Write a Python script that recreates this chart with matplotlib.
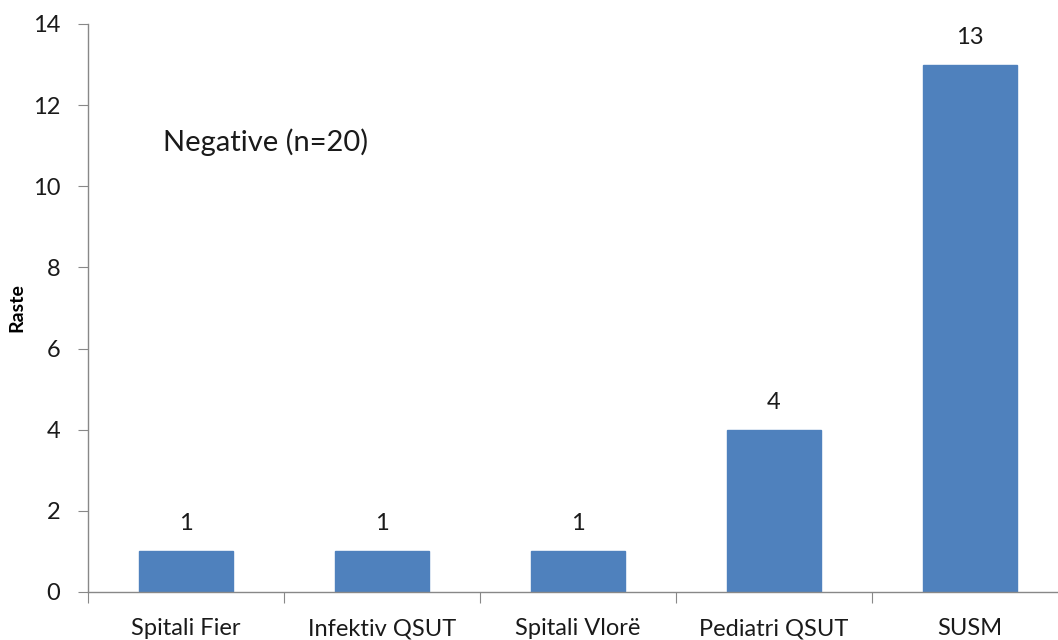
import matplotlib
matplotlib.use("Agg")
import matplotlib.pyplot as plt
import numpy as np

categories = ["Spitali Fier", "Infektiv QSUT", "Spitali Vlorë", "Pediatri QSUT", "SUSM"]
values = [1, 1, 1, 4, 13]
yticks = [0, 2, 4, 6, 8, 10, 12, 14]

plt.rcParams['font.family'] = ['Lato', 'DejaVu Sans']

fig = plt.figure(figsize=(10.58, 6.4), dpi=100)
ax = fig.add_axes([88/1058, 48/640, 980/1058, 568/640])

x = np.arange(len(categories))
bars = ax.bar(x, values, width=0.475, color='#4F81BD', edgecolor='#4F81BD', zorder=2)
for xi, v in zip(x, values):
    ax.text(xi, v + 0.42, str(v), ha='center', va='bottom', fontsize=17, color='#1a1a1a')

ax.set_xlim(-0.5, len(categories) - 0.5)
ax.set_ylim(0, 14)
ax.set_yticks(yticks)
ax.set_yticklabels([str(t) for t in yticks], fontsize=17, color='#1a1a1a')

ax.set_xticks(np.arange(-0.5, len(categories), 1.0))
ax.set_xticklabels([])
ax.set_xticks(x, minor=True)
ax.set_xticklabels(categories, minor=True, fontsize=17, color='#1a1a1a')
ax.tick_params(axis='x', which='minor', length=0, pad=19)
ax.tick_params(axis='x', which='major', length=8, color='#888888', direction='out')
ax.tick_params(axis='y', length=7, color='#888888', direction='out', pad=13)

for s in ['top', 'right']:
    ax.spines[s].set_visible(False)
for s in ['left', 'bottom']:
    ax.spines[s].set_color('#888888')
    ax.spines[s].set_linewidth(1.0)

ax.set_ylabel('Raste', fontsize=14, fontweight='bold', labelpad=5)
ax.text(163/1058, 1 - 142/640, 'Negative (n=20)', transform=fig.transFigure,
        fontsize=21, ha='left', va='center', color='#1a1a1a')

fig.savefig('out.png', dpi=100)
